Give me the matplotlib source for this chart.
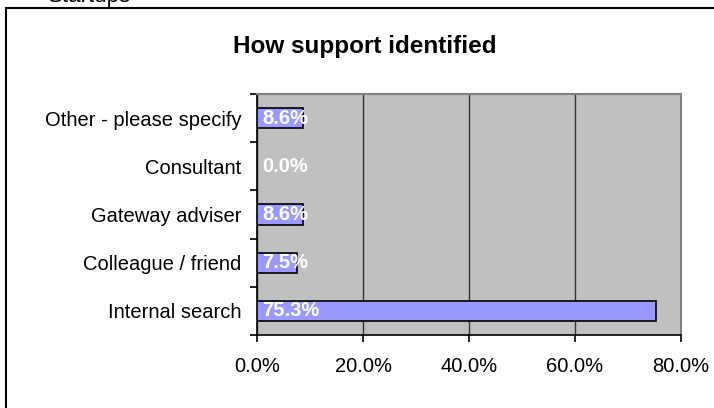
import matplotlib.pyplot as plt
from matplotlib.patches import Rectangle

plt.rcParams['font.family'] = ['Liberation Sans', 'DejaVu Sans']

# How support was identified (share of respondents)
categories = ['Internal search', 'Colleague / friend', 'Gateway adviser',
              'Consultant', 'Other - please specify']
shares = [75.3, 7.5, 8.6, 0.0, 8.6]
xticks = [0, 20, 40, 60, 80]

fig = plt.figure(figsize=(7.14, 4.08), dpi=100)

# section heading above the chart frame, mostly clipped by the top edge
fig.text(48 / 714, 1 - 2 / 408, 'Startups', fontsize=16, ha='left', va='baseline')

# chart frame
fig.patches.append(Rectangle((6 / 714, -0.1), 1.2, 1 - 8 / 408 + 0.1,
                             transform=fig.transFigure, fill=False,
                             edgecolor='black', linewidth=1.5))

ax = fig.add_axes([257 / 714, 1 - 335 / 408, 424 / 714, 241 / 408])
ax.set_facecolor('#C0C0C0')

ypos = range(len(categories))
ax.barh(ypos, shares, height=0.42, color='#9999FF', edgecolor='black',
        linewidth=1.2, zorder=3)
for y, v in zip(ypos, shares):
    ax.annotate(f'{v:.1f}%', (0, y), xytext=(4, 0), textcoords='offset points',
                color='white', fontweight='bold', fontsize=14.5,
                ha='left', va='center', zorder=4)

ax.set_xlim(0, 80)
ax.set_ylim(-0.5, len(categories) - 0.5)
ax.set_xticks(xticks)
ax.set_xticklabels([f'{t:.1f}%' for t in xticks])
ax.set_yticks(list(ypos))
ax.set_yticklabels(categories)
ax.set_yticks([i + 0.5 for i in range(-1, len(categories))], minor=True)
ax.tick_params(axis='y', which='major', length=0, pad=11, labelsize=14.5)
ax.tick_params(axis='y', which='minor', length=5, width=1.2, direction='out')
ax.tick_params(axis='x', length=5, width=1.2, direction='out', pad=11,
               labelsize=14.5)

ax.grid(axis='x', color='#333333', linewidth=1, zorder=1)
ax.set_axisbelow(True)
for side in ['top', 'right']:
    ax.spines[side].set_color('#808080')
    ax.spines[side].set_linewidth(1.5)
for side in ['left', 'bottom']:
    ax.spines[side].set_color('black')
    ax.spines[side].set_linewidth(1.2)

fig.text(365 / 714, 1 - 46 / 408, 'How support identified', fontsize=17.5,
         fontweight='bold', ha='center', va='center')

fig.savefig('out.png', dpi=100)
